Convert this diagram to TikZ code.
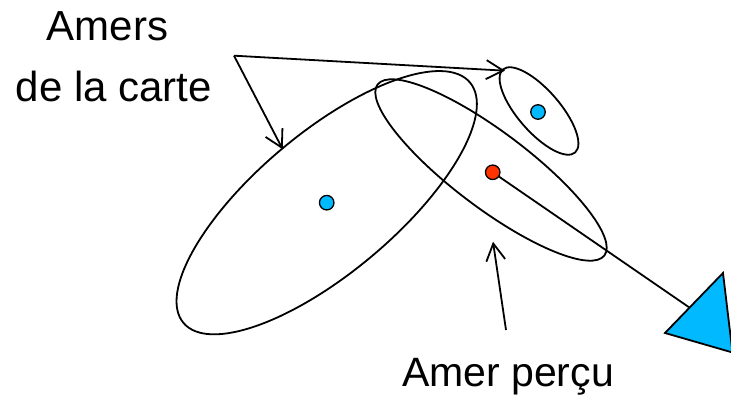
\documentclass[tikz,border=0pt]{standalone}
\usepackage{fontspec}
\setmainfont{Liberation Sans}
\usetikzlibrary{arrows.meta}
\definecolor{dotblue}{RGB}{0,185,255}
\definecolor{dotred}{RGB}{255,51,0}
\tikzset{
  ln/.style={line width=1.8pt, draw=black},
  arr/.style={ln, -{Straight Barb[length=17pt,width=19pt,line width=1.8pt]}},
  dot/.style={circle, draw=black, line width=1.3pt, minimum size=14.5pt, inner sep=0pt},
  lbl/.style={anchor=base, inner sep=0pt},
  big/.style={lbl, font=\fontsize{42}{50}\selectfont},
  bot/.style={lbl, font=\fontsize{41}{49}\selectfont}
}
\begin{document}
\begin{tikzpicture}[x=1pt,y=1pt]
\useasboundingbox (0,0) rectangle (731,395);
\clip (0,0) rectangle (731,395);
% ellipses
\draw[ln, rotate around={40:(326.7,192.3)}] (326.7,192.3) ellipse [x radius=187, y radius=70];
\draw[ln, rotate around={-37:(491,225)}] (491,225) ellipse [x radius=142, y radius=38];
\draw[ln, rotate around={-49:(539,284)}] (539,284) ellipse [x radius=55, y radius=21];
% coordinates
\coordinate (src) at (234,339.3);
\coordinate (tipsmall) at (505,324.3);
\coordinate (tipbig) at (282.7,245.7);
\coordinate (tail) at (506,65);
\coordinate (tipmid) at (493,153.3);
\coordinate (t1) at (665,62);
\coordinate (t2) at (723,122);
\coordinate (t3) at (732.5,42.5);
\coordinate (robot) at (706.8,75.5);
\coordinate (pred) at (492.7,222.7);
% line from perceived landmark to robot
\draw[ln] (pred) -- (robot);
% robot triangle
\filldraw[ln, fill=dotblue, line join=miter] (t1) -- (t2) -- (t3) -- cycle;
% dots
\node[dot, fill=dotblue] (mapbig) at (326.7,192.3) {};
\node[dot, fill=dotblue] (mapsmall) at (538,283) {};
\node[dot, fill=dotred] (seen) at (pred) {};
% labels
\node[big] (amers) at (107.5,354) {Amers};
\node[big] (carte) at (114,293.3) {de la carte};
\node[bot] (percu) at (508,8.3) {Amer perçu};
% arrows
\draw[arr] (src) -- (tipsmall);
\draw[arr] (src) -- (tipbig);
\draw[arr] (tail) -- (tipmid);
\end{tikzpicture}
\end{document}
